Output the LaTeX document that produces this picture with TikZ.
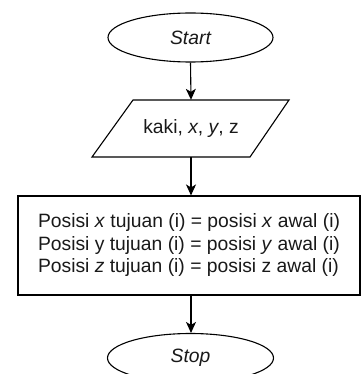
\documentclass[tikz,border=0pt]{standalone}
\usepackage{fontspec}
\setmainfont{Liberation Sans}
\usetikzlibrary{shapes.geometric,arrows.meta,calc}

\tikzset{
  flowline/.style={line width=1.1pt, draw=black},
  terminal/.style={flowline, ellipse, minimum width=165pt, minimum height=49pt, inner sep=0pt},
  process/.style={flowline, rectangle, minimum width=342pt, minimum height=99pt, inner sep=0pt,
                  align=left},
  iobox/.style={rectangle, minimum width=156pt, minimum height=57pt, inner sep=0pt},
  flowarrow/.style={flowline, -{Stealth[length=11pt, width=10pt, inset=3pt]}},
  every node/.style={font=\fontsize{19.3}{22.5}\selectfont, text=black!90},
}

\begin{document}
\begin{tikzpicture}[x=1pt, y=-1pt]
  \useasboundingbox (0,0) rectangle (361,374);
  \begin{scope}
    \clip (0,0) rectangle (361,374);

    % terminals and steps
    \node[terminal] (start) at (190.5,37.5) {\itshape Start};
    \node[iobox] (input) at (191,128.5) {kaki, \textit{x}, \textit{y}, z};
    \draw[flowline] ($(input.center)+(-58,-28.5)$) -- ($(input.center)+(98,-28.5)$)
                    -- ($(input.center)+(59,28.5)$) -- ($(input.center)+(-99,28.5)$) -- cycle;
    \node[process] (assign) at (189,245.5) {%
      Posisi \textit{x} tujuan (i) = posisi \textit{x} awal (i)\\
      Posisi y tujuan (i) = posisi \textit{y} awal (i)\\
      Posisi \textit{z} tujuan (i) = posisi z awal (i)};
    \node[terminal, minimum width=166pt] (stop) at (190.5,358) {\itshape Stop};

    % connectors
    \draw[flowarrow] (start.south) -- (input.north);
    \draw[flowarrow] (input.south) -- (assign.north -| input.south);
    \draw[flowarrow] (assign.south -| input.south) -- (stop.north -| input.south);
  \end{scope}
\end{tikzpicture}
\end{document}
